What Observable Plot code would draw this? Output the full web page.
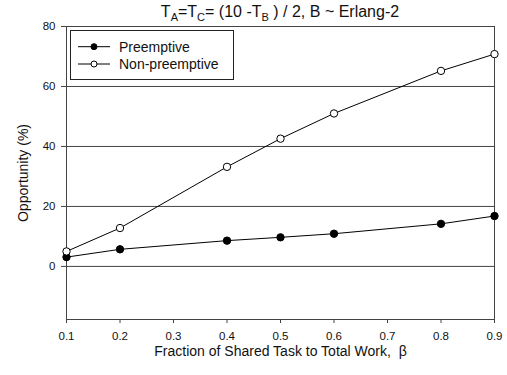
<!DOCTYPE html>
<html>
<head>
<meta charset="utf-8">
<script src="https://cdn.jsdelivr.net/npm/d3@7"></script>
<script src="https://cdn.jsdelivr.net/npm/@observablehq/plot@0.6"></script>
<style>
  html, body { margin: 0; padding: 0; background: #fff; }
  #wrap { position: relative; width: 507px; height: 375px; font-family: "Liberation Sans", Arial, sans-serif; color: #111; }
  #title { position: absolute; left: 66px; width: 428px; top: 3px; text-align: center; font-size: 16px; line-height: 18px; white-space: nowrap; }
  #title sub { font-size: 11px; vertical-align: -4px; line-height: 0; }
  #legend { position: absolute; left: 70px; top: 30px; width: 164px; height: 50px; border: 1px solid #222; box-sizing: border-box; background: #fff; }
</style>
</head>
<body>
<div id="wrap">
  <div id="chart"></div>
  <div id="title">T<sub>A</sub>=T<sub>C</sub>= (10 -T<sub>B</sub> ) / 2, B ~ Erlang-2</div>
  <div id="legend"></div>
</div>
<script>
const beta = [0.1, 0.2, 0.4, 0.5, 0.6, 0.8, 0.9];
const preemptive = [3.1, 5.7, 8.6, 9.7, 10.9, 14.2, 16.8];
const nonPreemptive = [5.0, 12.8, 33.2, 42.6, 51.0, 65.2, 70.8];
const seriesNames = ["Preemptive", "Non-preemptive"];
const yTicks = [0, 20, 40, 60, 80];
const gridValues = [0, 20, 40, 60];
const xTicks = [0.1, 0.2, 0.3, 0.4, 0.5, 0.6, 0.7, 0.8, 0.9];

const rows = [];
beta.forEach((b, i) => {
  rows.push({beta: b, value: preemptive[i], series: seriesNames[0]});
  rows.push({beta: b, value: nonPreemptive[i], series: seriesNames[1]});
});
const fills = {[seriesNames[0]]: "#000", [seriesNames[1]]: "#fff"};

const chart = Plot.plot({
  width: 507,
  height: 375,
  marginLeft: 66,
  marginRight: 13,
  marginTop: 26,
  marginBottom: 56,
  style: {fontFamily: "Liberation Sans, Arial, sans-serif", fontSize: "11.5px", color: "#111", background: "#fff"},
  x: {domain: [0.1, 0.9]},
  y: {domain: [-17.7, 80]},
  marks: [
    Plot.ruleY(gridValues, {stroke: "#444", strokeWidth: 1}),
    Plot.frame({stroke: "#444", strokeWidth: 1}),
    Plot.axisY({ticks: yTicks, tickSize: 5, tickPadding: 6, stroke: "#444", fontSize: 11.5, label: null}),
    Plot.axisY({ticks: [], label: "Opportunity (%)", labelAnchor: "center", labelArrow: "none", labelOffset: 48, fontSize: 14}),
    Plot.axisX({ticks: xTicks, tickFormat: d3.format(".1f"), tickSize: 4, tickPadding: 8, stroke: "#444", fontSize: 11.5, label: null}),
    Plot.axisX({ticks: [], label: "Fraction of Shared Task to Total Work,  β", labelAnchor: "center", labelArrow: "none", labelOffset: 36, fontSize: 14}),
    Plot.line(rows, {x: "beta", y: "value", z: "series", stroke: "#000", strokeWidth: 1}),
    Plot.dot(rows, {x: "beta", y: "value", r: 3.7, stroke: "#000", strokeWidth: 1, fill: d => fills[d.series]})
  ]
});
document.getElementById("chart").appendChild(chart);

// Legend
const legendSvg = d3.select("#legend").append("svg").attr("width", 162).attr("height", 48)
  .style("font-family", "Liberation Sans, Arial, sans-serif").style("font-size", "14px");
seriesNames.forEach((name, i) => {
  const g = legendSvg.append("g").attr("transform", `translate(0,${15.7 + i * 17.3})`);
  g.append("line").attr("x1", 7).attr("x2", 39).attr("y1", 0).attr("y2", 0).attr("stroke", "#000");
  g.append("circle").attr("cx", 23).attr("cy", 0).attr("r", 3).attr("stroke", "#000").attr("fill", fills[name]);
  g.append("text").attr("x", 48).attr("y", 0).attr("dy", "0.35em").attr("fill", "#111").text(name);
});
</script>
</body>
</html>
